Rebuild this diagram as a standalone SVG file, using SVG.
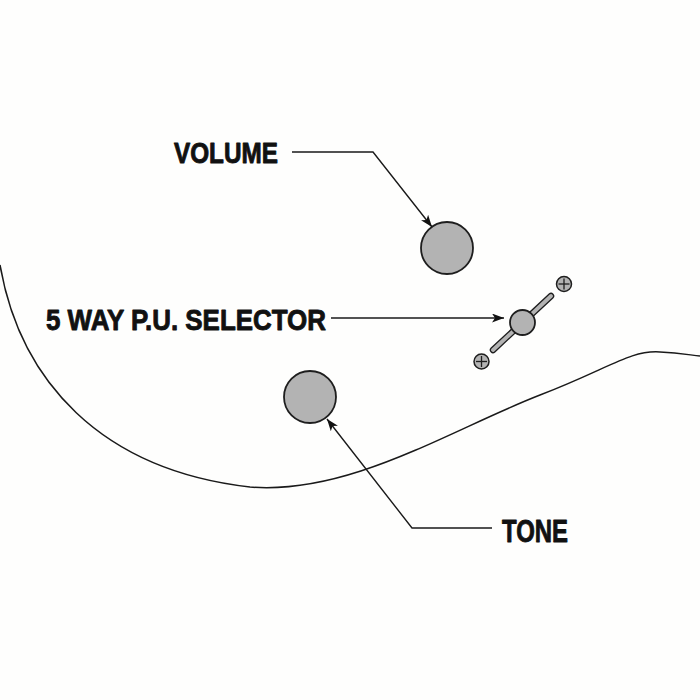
<svg xmlns="http://www.w3.org/2000/svg" width="700" height="700" viewBox="0 0 700 700">
<style>
.lbl{font-family:"Liberation Sans Narrow","Liberation Sans",Arial,sans-serif;font-weight:bold;fill:#111;stroke:#111;stroke-width:0.9;stroke-linejoin:round;}
.lead{fill:none;stroke:#1a1a1a;stroke-width:1.4;}
.knob{fill:#b3b3b3;stroke:#1e1e1e;stroke-width:1.8;}
.body{fill:none;stroke:#1a1a1a;stroke-width:1.5;}
.screw{fill:#b3b3b3;stroke:#1e1e1e;stroke-width:1.5;}
.cross{stroke:#1e1e1e;stroke-width:1.3;}
</style>
<defs>
<marker id="ah" markerUnits="userSpaceOnUse" markerWidth="14" markerHeight="10" refX="12" refY="4.5" orient="auto">
<path d="M0,0 L12,4.5 L0,9 L3,4.5 z" fill="#111"/>
</marker>
</defs>
<rect width="700" height="700" fill="#fefefd"/>
<path class="body" d="M0,265 C20,380 100,470 250,487 C350,495 450,430 540,395 C610,368 630,350 660,352 C680,353 690,355 700,356"/>
<g id="volume">
<circle class="knob" cx="447" cy="248" r="26"/>
<text class="lbl" x="174" y="163" font-size="29" textLength="104" lengthAdjust="spacingAndGlyphs">VOLUME</text>
</g>
<g id="selector">
<line x1="493" y1="350" x2="551" y2="296" stroke="#1e1e1e" stroke-width="6.5" stroke-linecap="round"/>
<line x1="493" y1="350" x2="551" y2="296" stroke="#b3b3b3" stroke-width="3.8" stroke-linecap="round"/>
<circle class="knob" cx="522.5" cy="322.5" r="12.5"/>
<g>
<circle class="screw" cx="564" cy="284" r="7.5"/>
<line class="cross" x1="558.5" y1="284" x2="569.5" y2="284"/>
<line class="cross" x1="564" y1="278.5" x2="564" y2="289.5"/>
</g>
<g>
<circle class="screw" cx="481.5" cy="361.5" r="7.5"/>
<line class="cross" x1="476" y1="361.5" x2="487" y2="361.5"/>
<line class="cross" x1="481.5" y1="356" x2="481.5" y2="367"/>
</g>
<text class="lbl" x="46" y="330" font-size="30" textLength="280" lengthAdjust="spacingAndGlyphs">5 WAY P.U. SELECTOR</text>
</g>
<g id="tone">
<circle class="knob" cx="310" cy="397" r="26"/>
<text class="lbl" x="502" y="542" font-size="31" textLength="66" lengthAdjust="spacingAndGlyphs">TONE</text>
</g>
<g id="connectors">
<path class="lead" d="M292,152 H373 L432,227" marker-end="url(#ah)"/>
<path class="lead" d="M331,318 H504" marker-end="url(#ah)"/>
<path class="lead" d="M492,528 H412 L327,419" marker-end="url(#ah)"/>
</g>
</svg>
